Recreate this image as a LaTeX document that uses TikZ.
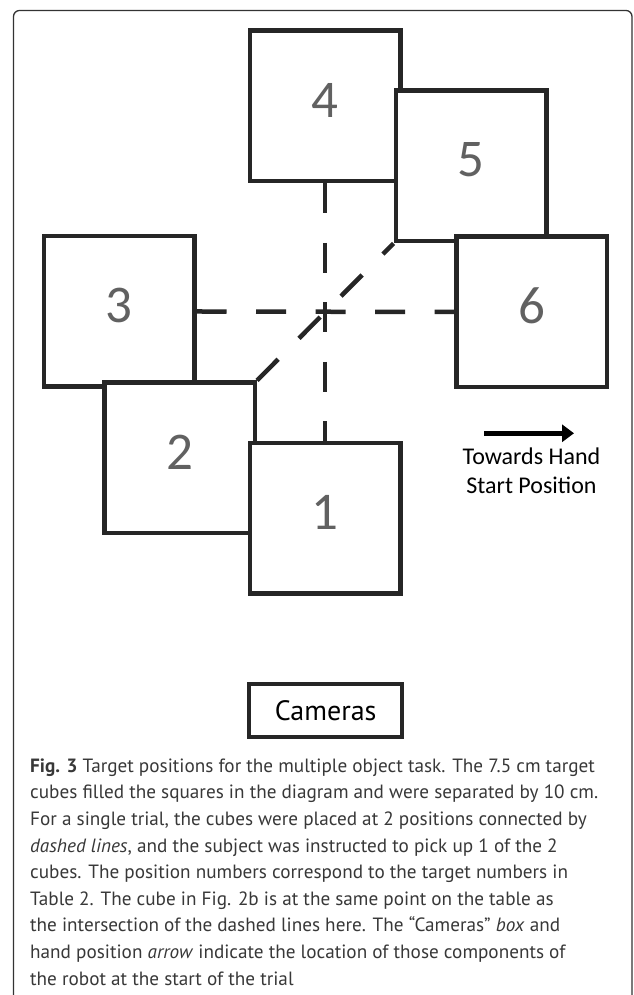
\documentclass[tikz,border=0pt]{standalone}
\usepackage{fontspec}
\setmainfont{PT Sans}
\newfontfamily\calibri{Carlito}
\usetikzlibrary{arrows.meta}

\begin{document}
\begin{tikzpicture}[
    x=1pt, y=1pt,
    % Caixas das posições dos cubos
    caixa/.style={rectangle, draw=black!85, fill=white, line width=4.5pt,
      minimum size=150.5pt, text depth=12pt, text=black!62,
      font=\calibri\fontsize{53}{53}\selectfont},
    % Linhas tracejadas entre duas posições
    ligacao/.style={draw=black!85, line width=4.5pt,
      dash pattern=on 30pt off 29.5pt},
    % Seta em direção à mão
    seta/.style={draw=black, line width=5pt,
      -{Triangle[length=12pt, width=17pt]}},
    % Caixa das câmeras
    cameras/.style={rectangle, draw=black!85, line width=4pt,
      minimum width=153.5pt, minimum height=53pt, inner sep=0pt,
      font=\fontsize{28}{28}\selectfont},
    % Moldura da figura
    moldura/.style={draw=black!80, line width=1.3pt, rounded corners=6pt}
  ]

  % Fundo e limites da figura
  \fill[white] (0,0) rectangle (633,995);
  \useasboundingbox (0,0) rectangle (633,995);
  \draw[moldura] (13.5,-30) rectangle (632,984.5);

  % Posições de cima para a direita
  \node[caixa] (c4) at (325,889) {4};
  \node[caixa] (c5) at (471,829) {5};
  \node[caixa] (c6) at (531.5,683) {6};
  % Posições da esquerda para baixo
  \node[caixa] (c3) at (119,683.5) {3};
  \node[caixa] (c2) at (179.5,537) {2};
  \node[caixa] (c1) at (325,476.5) {1};

  % Pares de posições ligadas
  \draw[ligacao] (c4.south) -- (c1.north);
  \draw[ligacao] (c3.east) -- (c6.west);
  \draw[ligacao] (c2.north east) -- (c5.south west);

  % Seta e legenda da posição da mão
  \coordinate (s0) at (484,561.7);
  \coordinate (s1) at (574,561.7);
  \draw[seta] (s0) -- (s1);
  \node[anchor=north, align=center, inner sep=0pt,
    font=\calibri\fontsize{24}{28.5}\selectfont] (mao) at (531.5,547)
    {Towards Hand\\Start Position};

  % Câmeras
  \node[cameras] (cam) at (325.7,284.2) {Cameras};

  % Legenda
  \node[anchor=north west, align=left, inner sep=0pt, text=black!78,
    font=\fontsize{19.2}{26.6}\selectfont] (legenda) at (30,236.5)
    {\textbf{Fig. 3} Target positions for the multiple object task. The 7.5 cm target\\
     cubes filled the squares in the diagram and were separated by 10 cm.\\
     For a single trial, the cubes were placed at 2 positions connected by\\
     \textit{dashed lines}, and the subject was instructed to pick up 1 of the 2\\
     cubes. The position numbers correspond to the target numbers in\\
     Table 2. The cube in Fig. 2b is at the same point on the table as\\
     the intersection of the dashed lines here. The “Cameras” \textit{box} and\\
     hand position \textit{arrow} indicate the location of those components of\\
     the robot at the start of the trial};

\end{tikzpicture}
\end{document}
